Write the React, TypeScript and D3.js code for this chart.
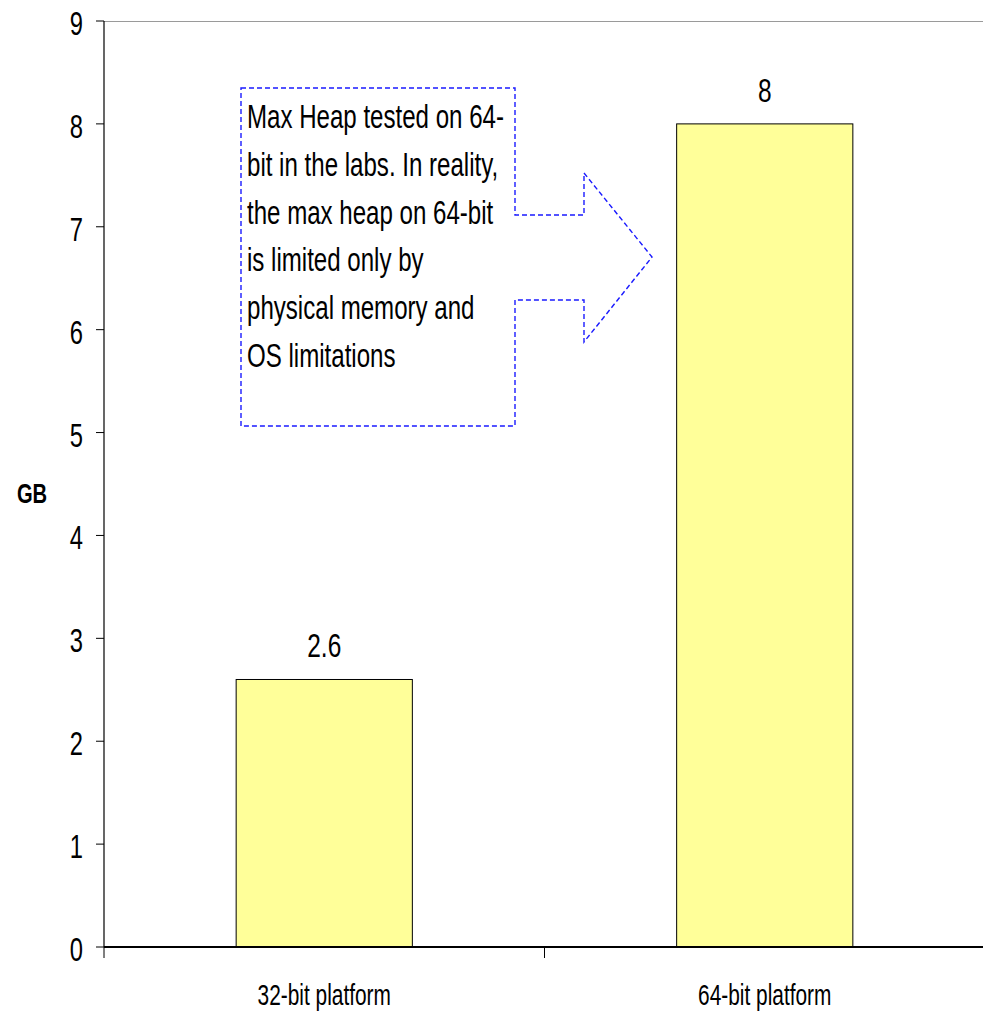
import React from "react";
import * as d3 from "d3";

const categories = ["32-bit platform", "64-bit platform"];
const values = [2.6, 8];
const valueLabels = ["2.6", "8"];
const yTicks = [0, 1, 2, 3, 4, 5, 6, 7, 8, 9];
const yAxisTitle = "GB";
const noteLines = [
  "Max Heap tested on 64-",
  "bit in the labs. In reality,",
  "the max heap on 64-bit",
  "is limited only by",
  "physical memory and",
  "OS limitations",
];

const W = 983;
const H = 1013;
const left = 104;
const right = 985;
const top = 21;
const bottom = 947;
const SX = 0.75;
const FONT = "'Liberation Sans', Arial, Helvetica, sans-serif";

function T({ x, y, size, anchor = "start", bold = false, sx = SX, children }: any) {
  return (
    <text
      transform={`translate(${x},${y}) scale(${sx},1)`}
      textAnchor={anchor}
      fontFamily={FONT}
      fontSize={size}
      fontWeight={bold ? "bold" : "normal"}
      fill="#000"
    >
      {children}
    </text>
  );
}

export default function App() {
  const x = d3
    .scaleBand<string>()
    .domain(categories)
    .range([left, right])
    .paddingInner(0.6)
    .paddingOuter(0.3);
  const y = d3.scaleLinear().domain([0, 9]).range([bottom, top]);
  const step = x.step();
  const catEdges = [left, left + step, left + 2 * step];

  // callout arrow (annotation, pixel layout)
  const bx0 = 241, by0 = 88, bx1 = 515, by1 = 426;
  const ay0 = 215, ay1 = 300, ax = 584, ayTop = 173, ayBot = 342, tipX = 652, tipY = 257;
  const callout = [
    [bx0, by0], [bx1, by0], [bx1, ay0], [ax, ay0], [ax, ayTop], [tipX, tipY],
    [ax, ayBot], [ax, ay1], [bx1, ay1], [bx1, by1], [bx0, by1],
  ];
  const calloutPath = d3.line()(callout as [number, number][]) + "Z";

  return (
    <svg
      width={W}
      height={H}
      style={{ position: "absolute", left: 0, top: 0, background: "#fff" }}
    >
      <rect x={0} y={0} width={W} height={H} fill="#fff" />
      {/* plot frame top */}
      <line x1={left} x2={W} y1={top + 0.5} y2={top + 0.5} stroke="#9a9a9a" strokeWidth={1.2} />

      {/* bars */}
      {categories.map((c, i) => (
        <rect
          key={c}
          x={x(c)!}
          y={y(values[i])}
          width={x.bandwidth()}
          height={bottom - y(values[i])}
          fill="#FFFF99"
          stroke="#000"
          strokeWidth={1}
        />
      ))}

      {/* value labels */}
      {categories.map((c, i) => (
        <T key={c} x={x(c)! + x.bandwidth() / 2} y={y(values[i]) - 22} size={34} anchor="middle" sx={0.72}>
          {valueLabels[i]}
        </T>
      ))}

      {/* y axis */}
      <line x1={left} x2={left} y1={top} y2={bottom} stroke="#000" strokeWidth={1.2} />
      {yTicks.map((t) => (
        <g key={t}>
          <line x1={left - 8} x2={left} y1={y(t)} y2={y(t)} stroke="#000" strokeWidth={1} />
          <T x={83} y={y(t) + 14} size={33} anchor="end" sx={0.72}>
            {t}
          </T>
        </g>
      ))}
      <T x={32} y={503} size={28} anchor="middle" bold sx={0.72}>
        {yAxisTitle}
      </T>

      {/* x axis */}
      <line x1={left} x2={W} y1={bottom} y2={bottom} stroke="#000" strokeWidth={2} />
      {catEdges.map((e, i) => (
        <line key={i} x1={e} x2={e} y1={bottom} y2={bottom + 11} stroke="#000" strokeWidth={1} />
      ))}
      {categories.map((c) => (
        <T key={c} x={x(c)! + x.bandwidth() / 2} y={1005} size={29} anchor="middle" sx={0.72}>
          {c}
        </T>
      ))}

      {/* callout */}
      <path d={calloutPath} fill="none" stroke="#1a1aff" strokeWidth={1.4} strokeDasharray="5,3" />
      {noteLines.map((l, i) => (
        <T key={i} x={247} y={128 + i * 47.8} size={33} sx={0.73}>
          {l}
        </T>
      ))}
    </svg>
  );
}
